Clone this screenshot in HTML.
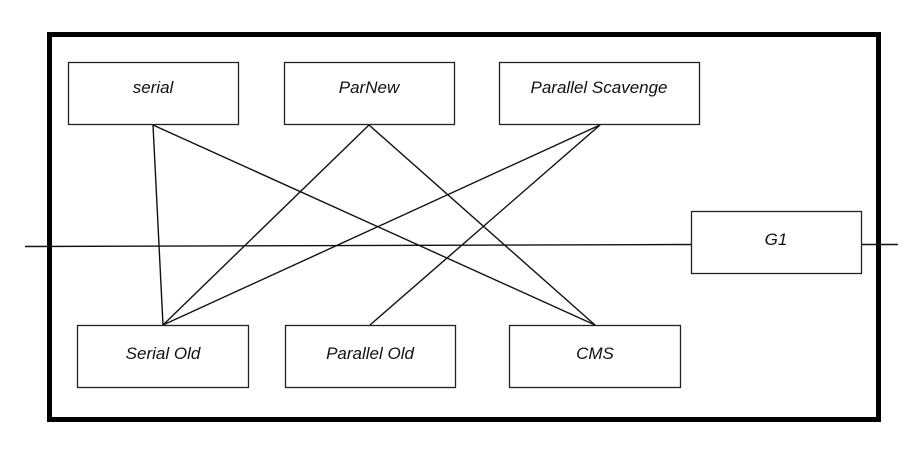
<!DOCTYPE html>
<html><head><style>
html,body{margin:0;padding:0;background:#fff;width:917px;height:473px;overflow:hidden}
svg text{font-family:"Liberation Sans",sans-serif;font-style:italic;font-size:17px;fill:#111}
</style></head><body>
<svg width="917" height="473" xmlns="http://www.w3.org/2000/svg">
<rect x="49.5" y="34.5" width="829" height="385" fill="none" stroke="#000" stroke-width="5"/>
<g fill="#fff" stroke="#222" stroke-width="1.3">
<rect x="68.5" y="62.5" width="170" height="62"/>
<rect x="284.5" y="62.5" width="170" height="62"/>
<rect x="499.5" y="62.5" width="200" height="62"/>
<rect x="691.5" y="211.5" width="170" height="62"/>
<rect x="77.5" y="325.5" width="171" height="62"/>
<rect x="285.5" y="325.5" width="170" height="62"/>
<rect x="509.5" y="325.5" width="171" height="62"/>
</g>
<g stroke="#111" stroke-width="1.4" fill="none">
<line x1="25" y1="246.5" x2="691" y2="244.5"/>
<line x1="862" y1="244.5" x2="898" y2="244.5"/>
<line x1="153" y1="125" x2="163" y2="325"/>
<line x1="153" y1="125" x2="595" y2="325"/>
<line x1="369" y1="125" x2="163" y2="325"/>
<line x1="369" y1="125" x2="595" y2="325"/>
<line x1="600" y1="125" x2="163" y2="325"/>
<line x1="600" y1="125" x2="370" y2="325"/>
</g>
<g text-anchor="middle">
<text x="153" y="93">serial</text>
<text x="369" y="93">ParNew</text>
<text x="599" y="93">Parallel Scavenge</text>
<text x="776" y="245">G1</text>
<text x="163" y="359">Serial Old</text>
<text x="370" y="359">Parallel Old</text>
<text x="595" y="359">CMS</text>
</g>
</svg>
</body></html>
